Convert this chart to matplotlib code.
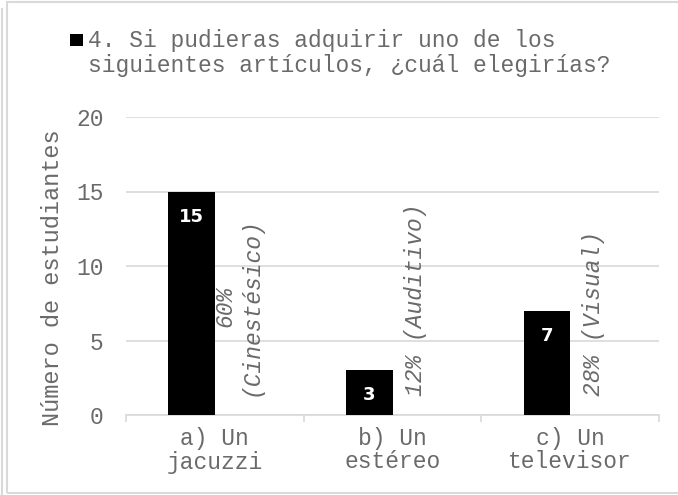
"""Gráfico de barras: artículo que elegirían los estudiantes"""

import matplotlib

matplotlib.use("Agg")
import matplotlib.pyplot as plt
from matplotlib import patches
from matplotlib.lines import Line2D

# datos del gráfico
CATEGORIES = ["a) Un\njacuzzi", "b) Un\nestéreo", "c) Un\ntelevisor"]
STUDENTS = [15, 3, 7]
PERCENT_LABELS = ["60%\n(Cinestésico)", "12% (Auditivo)", "28% (Visual)"]
LEGEND_TEXT = "4. Si pudieras adquirir uno de los\nsiguientes artículos, ¿cuál elegirías?"
Y_TICKS = [0, 5, 10, 15, 20]

GRAY_TEXT = "#6a6a6a"
GRID = "#d9d9d9"
MONO = "Liberation Mono"

W, H, DPI = 678, 495, 100
fig = plt.figure(figsize=(W / DPI, H / DPI), dpi=DPI)
ax = fig.add_axes([126 / W, 1 - 415 / H, (659 - 126) / W, (415 - 117) / H])

bar_w = 0.262
x = list(range(len(CATEGORIES)))
bars = ax.bar([i - bar_w / 2 for i in x], STUDENTS, width=bar_w, color="black", zorder=3)

# etiquetas de valor dentro de la barra
for i, v in zip(x, STUDENTS):
    ax.annotate(str(v), xy=(i - bar_w / 2, v), xytext=(0, -25), textcoords="offset pixels",
                ha="center", va="center", color="white", fontsize=13, fontweight="bold",
                family="DejaVu Sans", zorder=4)

# etiquetas de porcentaje (serie invisible)
for i, lab in zip(x, PERCENT_LABELS):
    ax.annotate(lab, xy=(i + bar_w / 2, 0), xytext=(0, 19), textcoords="offset pixels",
                rotation=90, ha="center", va="bottom", multialignment="center",
                fontsize=16.5, style="italic", family=MONO, color=GRAY_TEXT, linespacing=1.15)

ax.set_xlim(-0.5, 2.5)
ax.set_ylim(0, 20)
ax.set_yticks(Y_TICKS)
ax.set_yticklabels([str(t) for t in Y_TICKS], family=MONO, fontsize=16.5, color=GRAY_TEXT)
ax.tick_params(axis="y", length=0, pad=16)
ax.grid(axis="y", color=GRID, linewidth=1.2, zorder=0)

ax.set_xticks(x)
ax.set_xticklabels(CATEGORIES, family=MONO, fontsize=16.5, color=GRAY_TEXT, linespacing=1.0)
ax.set_xticks([-0.5, 0.5, 1.5, 2.5], minor=True)
ax.tick_params(axis="x", which="major", length=0, pad=9)
ax.tick_params(axis="x", which="minor", length=5, color=GRID, width=1.2)

for side in ["top", "right", "left"]:
    ax.spines[side].set_visible(False)
ax.spines["bottom"].set_color(GRID)
ax.spines["bottom"].set_linewidth(1.2)

ax.set_ylabel("Número de estudiantes", family=MONO, fontsize=17, color=GRAY_TEXT)
ax.yaxis.set_label_coords(-0.116, 0.46)

# leyenda
fig.patches.append(patches.Rectangle((70 / W, 1 - 46 / H), 13 / W, 12 / H, facecolor="black",
                                     transform=fig.transFigure, figure=fig))
fig.text(88 / W, 1 - 29 / H, LEGEND_TEXT, family=MONO, fontsize=16.5, color=GRAY_TEXT,
         ha="left", va="top", linespacing=1.12)

# marco
fig.patches.append(patches.Rectangle((7 / W, 1 - 493 / H), 700 / W, 491 / H, fill=False,
                                     edgecolor=GRID, linewidth=1.5,
                                     transform=fig.transFigure, figure=fig))
fig.lines.append(Line2D([1.5 / W, 1.5 / W], [0, 1 - 9 / H], color=GRID, linewidth=1.5,
                        transform=fig.transFigure, figure=fig))

fig.savefig("out.png", dpi=DPI)
